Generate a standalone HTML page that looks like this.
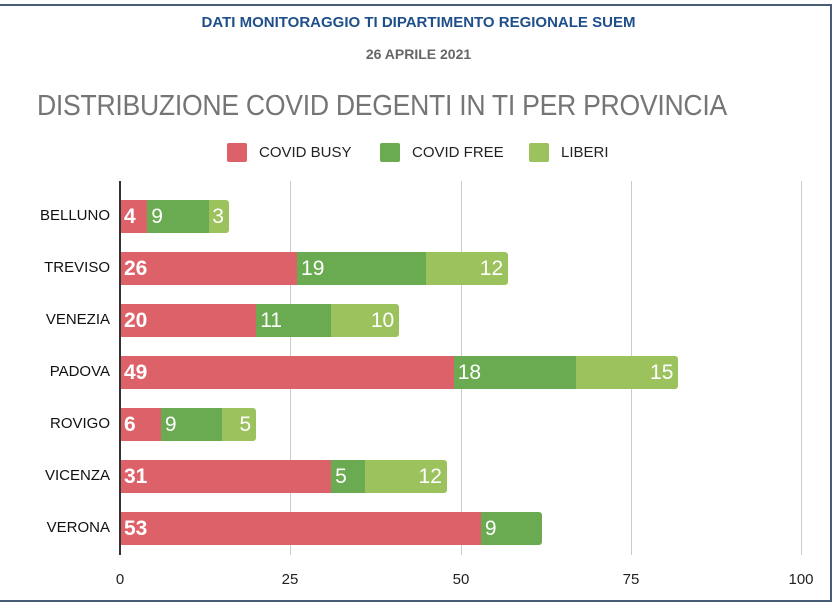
<!DOCTYPE html>
<html><head><meta charset="utf-8"><style>
body{margin:0;width:837px;height:607px;background:#fff;position:relative;overflow:hidden;font-family:"Liberation Sans",sans-serif}
.a{position:absolute}
.frame{left:-2px;top:4px;width:834px;height:598px;border:2px solid #4a5d78;border-left:none;box-sizing:border-box}
.t1{left:0;width:837px;top:14px;text-align:center;color:#1f4f8a;font-weight:bold;font-size:15px}
.t2{left:0;width:837px;top:46px;text-align:center;color:#666;font-weight:bold;font-size:14px}
.t3{left:37px;top:90px;color:#757575;font-size:29px;letter-spacing:-0.3px;transform:scaleX(0.917);transform-origin:0 0;white-space:nowrap}
.leg{top:144px;font-size:15px;color:#222}
.sw{width:20px;height:19px;border-radius:2px}
.grid{top:181px;width:1px;height:374px;background:#ccc}
.tick{top:571px;font-size:15px;color:#222;width:60px;text-align:center}
.cat{width:110px;left:0;text-align:right;font-size:15px;color:#111}
.bar{height:33px;color:#fff;font-size:21px;line-height:33px;box-sizing:border-box}
.r{background:#dc6168;padding-left:4px;font-weight:bold}
.g{background:#6aab52;padding-left:4px}
.l{background:#9cc25e;text-align:right;padding-right:5px;border-radius:0 3px 3px 0}
</style></head><body>
<div class="a frame"></div>
<div class="a t1">DATI MONITORAGGIO TI DIPARTIMENTO REGIONALE SUEM</div>
<div class="a t2">26 APRILE 2021</div>
<div class="a t3">DISTRIBUZIONE COVID DEGENTI IN TI PER PROVINCIA</div>
<div class="a sw" style="left:227px;top:143px;background:#dc6168"></div><div class="a leg" style="left:259px">COVID BUSY</div>
<div class="a sw" style="left:380px;top:143px;background:#6aab52"></div><div class="a leg" style="left:412px">COVID FREE</div>
<div class="a sw" style="left:529px;top:143px;background:#9cc25e"></div><div class="a leg" style="left:561px">LIBERI</div>
<div class="a grid" style="left:290px"></div>
<div class="a grid" style="left:461px"></div>
<div class="a grid" style="left:631px"></div>
<div class="a grid" style="left:801px"></div>
<div class="a tick" style="left:90px">0</div>
<div class="a tick" style="left:260px">25</div>
<div class="a tick" style="left:431px">50</div>
<div class="a tick" style="left:601px">75</div>
<div class="a tick" style="left:771px">100</div>
<div id="bars"></div>
<div class="a" style="left:119px;top:181px;width:2px;height:374px;background:#333"></div>
<script>
var d=[["BELLUNO",4,9,3],["TREVISO",26,19,12],["VENEZIA",20,11,10],["PADOVA",49,18,15],["ROVIGO",6,9,5],["VICENZA",31,5,12],["VERONA",53,9,0]];
var s=6.81,h="";
d.forEach(function(r,i){var y=200+i*52,x=120;
h+='<div class="a cat" style="top:'+(y+7)+'px">'+r[0]+'</div>';
[["r",r[1]],["g",r[2]],["l",r[3]]].forEach(function(c){if(!c[1])return;var w=c[1]*s;
h+='<div class="a bar '+c[0]+'" style="left:'+x+'px;top:'+y+'px;width:'+w+'px'+(c[0]=="g"&&!r[3]?';border-radius:0 3px 3px 0':'')+'">'+c[1]+'</div>';x+=w;});});
document.getElementById("bars").innerHTML=h;
</script>
</body></html>
